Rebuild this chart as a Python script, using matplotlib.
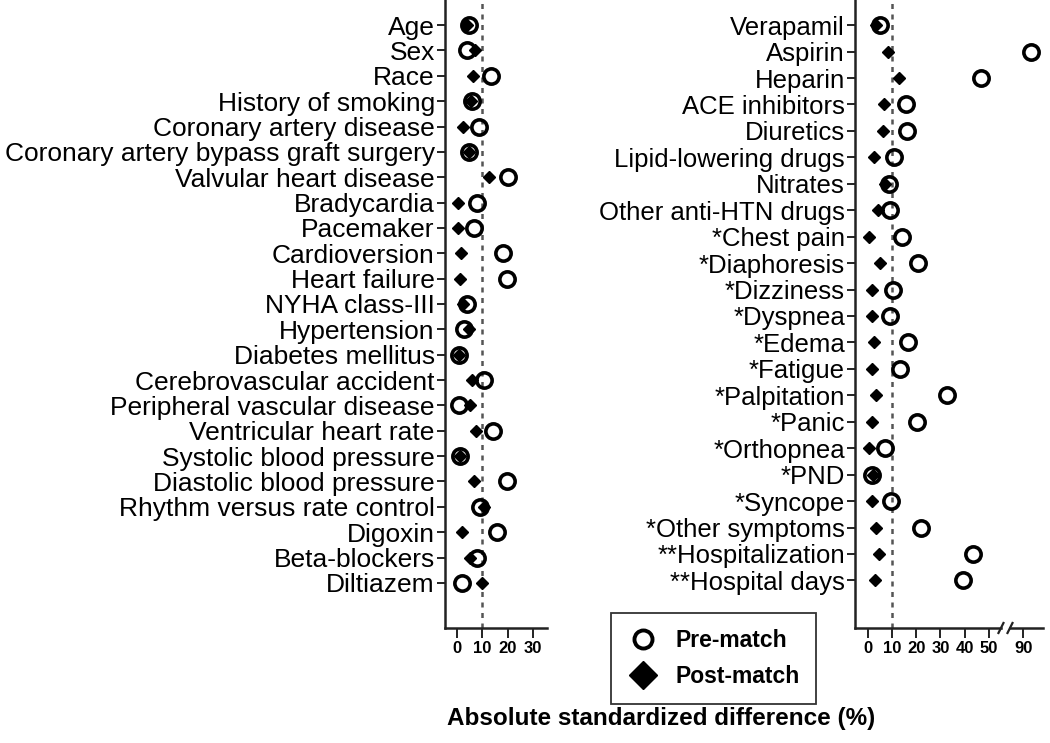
import matplotlib
matplotlib.use("Agg")
import matplotlib.pyplot as plt
from matplotlib.lines import Line2D

plt.rcParams['font.family'] = ['Liberation Sans', 'DejaVu Sans']

# --- Data (absolute standardized difference, %) ---
left_labels = ["Age", "Sex", "Race", "History of smoking", "Coronary artery disease",
               "Coronary artery bypass graft surgery", "Valvular heart disease",
               "Bradycardia", "Pacemaker", "Cardioversion", "Heart failure",
               "NYHA class-III", "Hypertension", "Diabetes mellitus",
               "Cerebrovascular accident", "Peripheral vascular disease",
               "Ventricular heart rate", "Systolic blood pressure",
               "Diastolic blood pressure", "Rhythm versus rate control",
               "Digoxin", "Beta-blockers", "Diltiazem"]
left_pre = [4.5, 3.8, 13.3, 5.8, 8.8, 4.5, 20.3, 8.0, 6.5, 18.3, 19.9, 3.8,
            2.8, 0.9, 10.7, 0.9, 14.3, 1.2, 19.9, 9.0, 15.9, 8.0, 1.8]
left_post = [4.0, 7.0, 6.2, 5.5, 2.2, 4.5, 12.4, 0.5, 0.5, 1.5, 1.2, 2.5,
             4.5, 0.9, 5.8, 4.9, 7.5, 1.2, 6.7, 10.5, 1.8, 5.1, 9.8]

right_labels = ["Verapamil", "Aspirin", "Heparin", "ACE inhibitors", "Diuretics",
                "Lipid-lowering drugs", "Nitrates", "Other anti-HTN drugs",
                "*Chest pain", "*Diaphoresis", "*Dizziness", "*Dyspnea", "*Edema",
                "*Fatigue", "*Palpitation", "*Panic", "*Orthopnea", "*PND",
                "*Syncope", "*Other symptoms", "**Hospitalization", "**Hospital days"]
right_pre = [5.0, 93.0, 46.8, 16.0, 16.3, 10.8, 8.9, 9.2, 14.3, 20.6, 10.3,
             9.4, 16.7, 13.3, 32.5, 20.5, 7.1, 1.9, 9.6, 21.9, 43.2, 39.1]
right_post = [3.6, 8.5, 13.0, 6.8, 6.2, 2.7, 7.1, 4.3, 0.7, 5.1, 1.9,
              1.9, 2.7, 2.0, 3.3, 1.6, 0.7, 2.2, 1.6, 3.3, 4.6, 3.0]

left_ticks = [0, 10, 20, 30]
right_ticks = [0, 10, 20, 30, 40, 50]
break_ticks = [90]
threshold = 10

AX_COL = "#222222"
pre_style = dict(marker="o", ms=11, mew=2.6, mfc="none", mec="black", ls="none")
post_style = dict(marker="D", ms=6.2, mew=1, mfc="black", mec="black", ls="none")

fig = plt.figure(figsize=(10.5, 7.43), dpi=100)
ax_l = fig.add_axes([0.4238, 0.1548, 0.0971, 0.8452])
ax_r = fig.add_axes([0.8143, 0.1548, 0.1390, 0.8452])
ax_b = fig.add_axes([0.9619, 0.1548, 0.0314, 0.8452])


def style(ax, xticks, ysize):
    for s in ["top", "right"]:
        ax.spines[s].set_visible(False)
    for s in ["left", "bottom"]:
        ax.spines[s].set_color(AX_COL)
        ax.spines[s].set_linewidth(1.8)
    ax.tick_params(axis="y", length=5.8, width=1.4, color=AX_COL, pad=1.5,
                   labelsize=ysize)
    ax.tick_params(axis="x", length=7.2, width=1.4, color=AX_COL, pad=2,
                   labelsize=12)
    ax.set_xticks(xticks)
    for t in ax.get_xticklabels():
        t.set_fontweight("bold")
    ax.set_facecolor("none")


def draw(ax, labels, pre, post, xticks, xlim, ylim, ysize):
    y = list(range(len(labels)))
    ax.axvline(threshold, color="#555555", lw=1.8, ls=(0, (2, 2.2)), zorder=1)
    ax.plot(post, y, zorder=3, **post_style)
    ax.plot(pre, y, zorder=4, **pre_style)
    ax.set_yticks(y)
    ax.set_yticklabels(labels)
    ax.set_xlim(*xlim)
    ax.set_ylim(*ylim)
    style(ax, xticks, ysize)


draw(ax_l, left_labels, left_pre, left_post, left_ticks, (-4.8, 35.5), (23.78, -0.99), 19)
draw(ax_r, right_labels, right_pre, right_post, right_ticks, (-5.2, 54.9), (22.8, -0.95), 18.5)

# broken part of the right x-axis
yr = list(range(len(right_labels)))
ax_b.plot(right_pre, yr, zorder=4, **pre_style)
ax_b.set_xlim(84.5, 98.1)
ax_b.set_ylim(22.8, -0.95)
style(ax_b, break_ticks, 18.5)
ax_b.spines["left"].set_visible(False)
ax_b.set_yticks([])

# break marks
for ax, xa in [(ax_r, 1.0), (ax_b, 0.0)]:
    w = 2.5 / (ax.get_position().width * 1050)
    h = 5.0 / (ax.get_position().height * 743)
    ax.plot([xa - w, xa + w], [-h, h], transform=ax.transAxes, color=AX_COL,
            lw=1.6, clip_on=False)

# legend
handles = [Line2D([], [], marker="o", ms=13, mew=2.8, mfc="none", mec="black", ls="none"),
           Line2D([], [], marker="D", ms=14, mfc="black", mec="black", ls="none")]
leg = fig.legend(handles, ["Pre-match", "Post-match"], loc="center",
                 bbox_to_anchor=(0.6795, 0.1137), frameon=True, fancybox=False,
                 prop=dict(size=16.5, weight="bold"), handletextpad=0.7,
                 borderpad=0.7, labelspacing=0.55, handlelength=1.4,
                 borderaxespad=0)
leg.get_frame().set_edgecolor("black")
leg.get_frame().set_linewidth(1.3)

fig.text(0.6295, 0.0336, "Absolute standardized difference (%)", ha="center",
         va="center", fontsize=17.5, fontweight="bold")

fig.savefig("out.png", dpi=100, facecolor="white")
